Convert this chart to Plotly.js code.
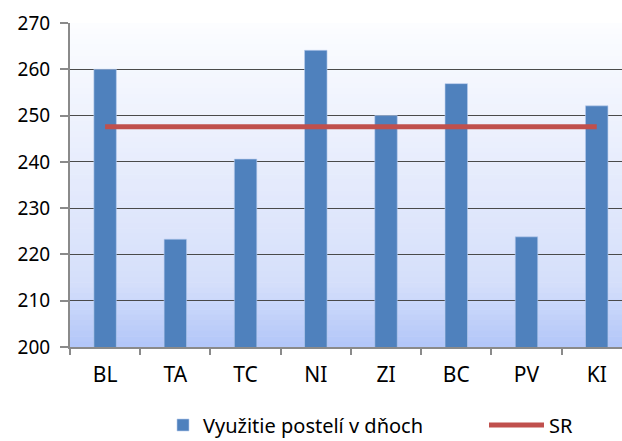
<!DOCTYPE html>
<html>
<head>
<meta charset="utf-8">
<script src="https://cdn.plot.ly/plotly-3.0.1.min.js"></script>
<style>
  html, body { margin: 0; padding: 0; background: #ffffff; }
  #chart { width: 622px; height: 441px; }
</style>
</head>
<body>
<div id="chart"></div>
<script>
// ---- data ----
var categories = ["BL", "TA", "TC", "NI", "ZI", "BC", "PV", "KI"];
var bedDays = [260.0, 223.3, 240.6, 264.1, 250.0, 256.9, 223.8, 252.1];
var srValues = [247.6, 247.6, 247.6, 247.6, 247.6, 247.6, 247.6, 247.6];
var yTicks = [200, 210, 220, 230, 240, 250, 260, 270];
var barName = "Využitie postelí v dňoch";
var lineName = "SR";

// ---- background gradient (approximating the Excel plot-area fill) ----
var stops = [
  [0.0, [252, 253, 255]],
  [0.5, [228, 234, 252]],
  [0.8, [213, 223, 250]],
  [1.0, [178, 198, 249]]
];
function colorAt(t) {
  for (var i = 1; i < stops.length; i++) {
    if (t <= stops[i][0]) {
      var a = stops[i - 1], b = stops[i];
      var f = (t - a[0]) / (b[0] - a[0]);
      var c = a[1].map(function (v, k) { return Math.round(v + (b[1][k] - v) * f); });
      return "rgb(" + c.join(",") + ")";
    }
  }
  return "rgb(" + stops[stops.length - 1][1].join(",") + ")";
}
var shapes = [];
var N = 60;
for (var i = 0; i < N; i++) {
  var t = (i + 0.5) / N; // 0 top -> 1 bottom
  shapes.push({
    type: "rect", xref: "x domain", yref: "y domain", layer: "below",
    x0: 0, x1: 1, y0: 1 - (i + 1) / N - 0.002, y1: 1 - i / N,
    fillcolor: colorAt(t), line: { width: 0 }
  });
}

var traces = [
  {
    type: "bar",
    x: categories,
    y: bedDays,
    name: barName,
    legend: "legend",
    width: 0.32,
    marker: { color: "#4F81BD", line: { color: "#b9cdee", width: 0.6 } },
    hoverinfo: "x+y"
  },
  {
    type: "scatter",
    mode: "lines",
    x: categories,
    y: srValues,
    name: lineName,
    legend: "legend2",
    line: { color: "#C0504D", width: 5 },
    hoverinfo: "y"
  }
];

var font = "'Noto Sans', 'Open Sans', sans-serif";

var layout = {
  width: 622,
  height: 441,
  margin: { l: 70, r: 0, t: 23, b: 94, autoexpand: false },
  paper_bgcolor: "#ffffff",
  plot_bgcolor: "rgba(0,0,0,0)",
  font: { family: font, size: 20, color: "#000000" },
  shapes: shapes,
  xaxis: {
    type: "category",
    range: [-0.5, 7.36],
    showgrid: false,
    showline: true,
    linecolor: "#8a8a8a",
    linewidth: 2,
    ticks: "outside",
    tickson: "boundaries",
    ticklen: 6,
    tickwidth: 2,
    tickcolor: "#8a8a8a",
    ticklabelstandoff: 8,
    tickfont: { family: font, size: 21, color: "#000" },
    fixedrange: true
  },
  yaxis: {
    range: [200, 270],
    tickvals: yTicks,
    ticktext: yTicks.map(String),
    showgrid: true,
    gridcolor: "#4a4a4a",
    gridwidth: 1,
    showline: true,
    linecolor: "#8a8a8a",
    linewidth: 2,
    ticks: "outside",
    ticklen: 8,
    tickwidth: 2,
    tickcolor: "#8a8a8a",
    ticklabelstandoff: 6,
    zeroline: false,
    tickfont: { family: font, size: 19, color: "#000" },
    fixedrange: true
  },
  showlegend: true,
  legend: {
    orientation: "h",
    xref: "paper",
    yref: "container",
    x: (163 - 70) / 552,
    xanchor: "left",
    y: (441 - 425) / 441,
    yanchor: "middle",
    maxheight: 200,
    itemwidth: 30,
    font: { family: font, size: 20, color: "#000" },
    bgcolor: "rgba(0,0,0,0)"
  },
  legend2: {
    orientation: "h",
    xref: "paper",
    yref: "container",
    x: (484 - 70) / 552,
    xanchor: "left",
    y: (441 - 425) / 441,
    yanchor: "middle",
    maxheight: 200,
    itemwidth: 55,
    font: { family: font, size: 20, color: "#000" },
    bgcolor: "rgba(0,0,0,0)"
  }
};

Plotly.newPlot("chart", traces, layout, { displayModeBar: false, staticPlot: true });
</script>
</body>
</html>
